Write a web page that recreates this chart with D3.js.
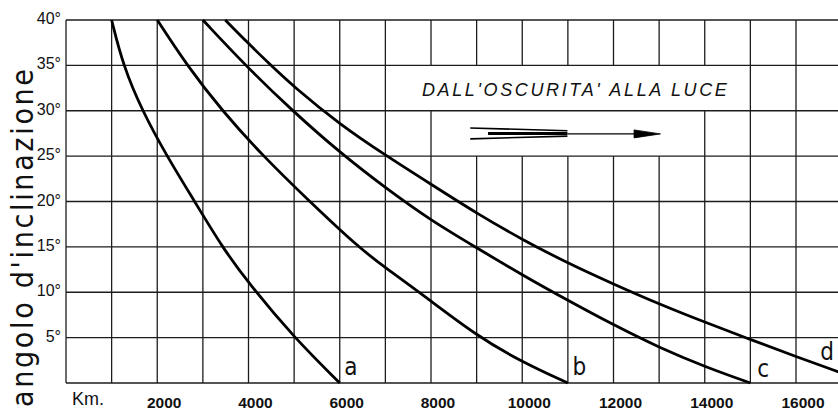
<!DOCTYPE html>
<html>
<head>
<meta charset="utf-8">
<script src="https://cdn.jsdelivr.net/npm/d3@7"></script>
<style>
  body { margin: 0; background: #fff; }
  svg { display: block; }
  text { font-family: "Liberation Sans", Arial, sans-serif; fill: #111; }
</style>
</head>
<body>
<div id="chart"></div>
<script>
// distance (km) vs angle of inclination (degrees)
const kmA  = [1000, 1250, 1670, 2210, 2820, 3420, 4000, 5000, 6000];
const degA = [40,   35,   30,   25,   20,   15,   11,   5,    0];

const kmB  = [2000, 2650, 3420, 4320, 5340, 6400, 7000, 7800, 9000, 10000, 11000];
const degB = [40,   35,   30,   25,   20,   15,   12.7, 9.8,  5.2,  2.3,   0];

const kmC  = [3000, 3930, 4960, 6000, 7000, 8000, 9000, 10000, 11000, 12000, 13000, 14000, 15000];
const degC = [40,   35,   30,   25.4, 21.5, 17.9, 14.9, 11.9,  9.1,   6.4,   3.9,   1.8,   0];

const kmD  = [3490, 4000, 4430, 5000, 6000, 7000, 8000, 9000, 10000, 11000, 12000, 13000, 14000, 15000, 16000, 17000];
const degD = [40,   37.4, 35.3, 32.6, 28.5, 25.1, 21.9, 18.7, 15.8,  13.2,  10.9,  8.7,   6.7,   4.8,   2.9,   1.1];

const curveNames = ["a", "b", "c", "d"];
const curveKm = [kmA, kmB, kmC, kmD];
const curveDeg = [degA, degB, degC, degD];
// where each letter sits, in km / degrees
const labelKm = [6100, 11100, 15150, 16530];
const labelDeg = [0.9, 0.9, 0.7, 2.5];

const xTicks = [2000, 4000, 6000, 8000, 10000, 12000, 14000, 16000];
const yTicks = [5, 10, 15, 20, 25, 30, 35, 40];

const width = 838;
const height = 415;

const x = d3.scaleLinear().domain([0, 16000]).range([66, 796]);
const y = d3.scaleLinear().domain([0, 40]).range([383, 20]);
const xMax = x.invert(width);

const svg = d3.select("#chart")
  .append("svg")
  .attr("width", width)
  .attr("height", height);

svg.append("clipPath").attr("id", "plot")
  .append("rect")
  .attr("x", x(0)).attr("y", y(40) - 2)
  .attr("width", width - x(0)).attr("height", y(0) - y(40) + 4);

// grid: vertical segments per 5-degree band, some blanked behind the note and arrow
const gaps = [
  { from: 8000, to: 14000, lo: 30 },
  { from: 9000, to: 13000, lo: 25 }
];
const vSegs = [];
d3.range(0, 17000, 1000).forEach(k => {
  d3.range(0, 40, 5).forEach(lo => {
    const hidden = gaps.some(g => k >= g.from && k <= g.to && lo === g.lo);
    if (!hidden) vSegs.push({ k, lo, hi: lo + 5 });
  });
});

const grid = svg.append("g")
  .attr("stroke", "#1c1c1c")
  .attr("stroke-width", 1.3);

grid.selectAll("line.v")
  .data(vSegs)
  .enter().append("line")
  .attr("class", "v")
  .attr("x1", d => x(d.k)).attr("x2", d => x(d.k))
  .attr("y1", d => y(d.lo)).attr("y2", d => y(d.hi));

grid.selectAll("line.h")
  .data(d3.range(0, 45, 5))
  .enter().append("line")
  .attr("class", "h")
  .attr("x1", x(0)).attr("x2", x(xMax))
  .attr("y1", d => y(d)).attr("y2", d => y(d))
  .attr("stroke-width", d => (d === 0 || d === 40) ? 1.6 : 1.3);

// curves
const line = d3.line()
  .x(d => x(d[0]))
  .y(d => y(d[1]))
  .curve(d3.curveBasis);

svg.append("g")
  .attr("clip-path", "url(#plot)")
  .selectAll("path")
  .data(curveKm.map((ks, i) => ks.map((k, j) => [k, curveDeg[i][j]])))
  .enter().append("path")
  .attr("d", line)
  .attr("fill", "none")
  .attr("stroke", "#000")
  .attr("stroke-width", 2.8);

svg.selectAll("text.curve")
  .data(curveNames)
  .enter().append("text")
  .attr("class", "curve")
  .attr("x", (d, i) => x(labelKm[i]))
  .attr("y", (d, i) => y(labelDeg[i]))
  .style("font-family", "'Liberation Sans Narrow', 'DejaVu Sans Condensed', sans-serif")
  .style("font-size", "24px")
  .text(d => d);

// axis labels
svg.selectAll("text.ytick")
  .data(yTicks)
  .enter().append("text")
  .attr("class", "ytick")
  .attr("x", 61)
  .attr("y", d => y(d) + 4)
  .attr("text-anchor", "end")
  .style("font-size", "16px")
  .text(d => d + "°");

svg.selectAll("text.xtick")
  .data(xTicks)
  .enter().append("text")
  .attr("class", "xtick")
  .attr("x", d => x(d) + 7)
  .attr("y", 408)
  .attr("text-anchor", "middle")
  .style("font-size", "15.5px")
  .style("font-weight", "bold")
  .text(d => d);

svg.append("text")
  .attr("x", 72)
  .attr("y", 405)
  .style("font-size", "18px")
  .text("Km.");

svg.append("text")
  .attr("transform", "translate(33,238) rotate(-90)")
  .attr("text-anchor", "middle")
  .attr("textLength", 338)
  .attr("lengthAdjust", "spacing")
  .style("font-family", "'Liberation Sans Narrow', 'DejaVu Sans Condensed', sans-serif")
  .style("font-size", "30px")
  .text("angolo d'inclinazione");

// note and arrow
svg.append("text")
  .attr("x", x(7800))
  .attr("y", y(31.6))
  .attr("textLength", 305)
  .attr("lengthAdjust", "spacing")
  .style("font-size", "18px")
  .style("font-style", "italic")
  .text("DALL'OSCURITA' ALLA LUCE");

const arrow = svg.append("g").attr("stroke", "#000").attr("fill", "none");
arrow.append("line")
  .attr("x1", x(8860)).attr("y1", y(28.1))
  .attr("x2", x(10990)).attr("y2", y(27.8))
  .attr("stroke-width", 1.6);
arrow.append("line")
  .attr("x1", x(8860)).attr("y1", y(26.9))
  .attr("x2", x(10990)).attr("y2", y(27.2))
  .attr("stroke-width", 1.6);
arrow.append("line")
  .attr("x1", x(9250)).attr("y1", y(27.5))
  .attr("x2", x(10990)).attr("y2", y(27.5))
  .attr("stroke-width", 3);
arrow.append("line")
  .attr("x1", x(10990)).attr("y1", y(27.45))
  .attr("x2", x(12600)).attr("y2", y(27.45))
  .attr("stroke-width", 1.4);
arrow.append("path")
  .attr("d", `M${x(12450)},${y(27.45) - 4}L${x(13030)},${y(27.45)}L${x(12450)},${y(27.45) + 4}Z`)
  .attr("fill", "#000")
  .attr("stroke-width", 0.8);
</script>
</body>
</html>
